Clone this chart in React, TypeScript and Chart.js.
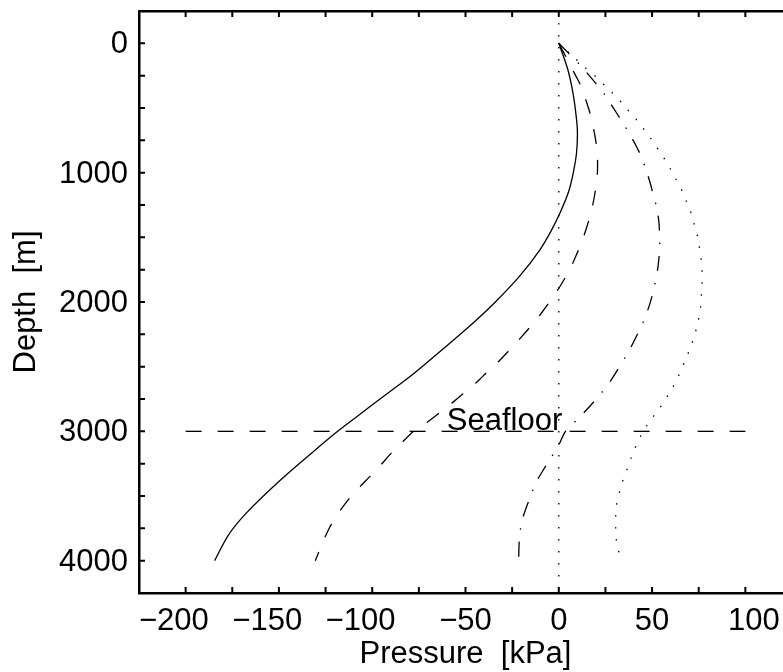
import React, { useEffect, useRef } from 'react';
import { Chart, registerables } from 'chart.js';

Chart.register(...registerables);

const FONT = '"Liberation Sans", Arial, Helvetica, sans-serif';
const FONT_SIZE = 31;

// Axis ranges and ticks
const xRange = [-225, 125];
const yRange = [-250, 4250];
const xLabelTicks = [-200, -150, -100, -50, 0, 50, 100];
const xLabelText = ['\u2212200', '\u2212150', '\u2212100', '\u221250', '0', '50', '100'];
// small horizontal nudges of the printed labels, as in the reference (leading / trailing blanks)
const xLabelLead = ['', '', '', '', '', '', '  '];
const xLabelTrail = ['  \u2009', '  \u2009', '  \u2009', '', '', '', ''];
const yLabelTicks = [0, 1000, 2000, 3000, 4000];
const yLabelText = ['0', '1000', '2000', '3000', '4000'];
const xMinorTicks = [-225, -200, -175, -150, -125, -100, -75, -50, -25, 0, 25, 50, 75, 100, 125];
const yMinorTicks = [-250, 0, 250, 500, 750, 1000, 1250, 1500, 1750, 2000, 2250, 2500, 2750, 3000, 3250, 3500, 3750, 4000, 4250];

const xTitle = 'Pressure  [kPa]';
const yTitle = 'Depth  [m]';

// Seafloor marker
const seafloorLabel = 'Seafloor';
const seafloorDepth = 3000;
const seafloorX = [-200, 100];
const seafloorLabelX = -60;

// Zero reference line
const zeroLineX = 0;
const zeroLineDepth = [-250, 4250];

// Solid curve
const solidDepth = [0, 200, 400, 600, 700, 850, 1000, 1150, 1300, 1450, 1600, 1800, 2000, 2150, 2350, 2550, 2725, 2900, 3000, 3150, 3375, 3625, 3800, 4000];
const solidPressure = [0, 4.8, 7.8, 9.6, 10, 9.5, 7.8, 5.2, 1, -4.1, -10.3, -21, -34, -45, -61, -77.5, -93.5, -109.5, -118.5, -131, -149, -167, -177, -184.5];

// Dashed curve
const dashedDepth = [0, 120, 240, 340, 455, 570, 710, 815, 940, 1060, 1190, 1300, 1430, 1530, 1650, 1760, 1880, 1970, 2085, 2170, 2270, 2355, 2450, 2530, 2620, 2690, 2780, 2935, 3000, 3090, 3165, 3270, 3360, 3450, 3540, 3650, 3740, 3860, 4000];
const dashedPressure = [0, 4.4, 8.7, 12.2, 14.9, 17.3, 19.3, 20.4, 20.8, 20.4, 19.0, 17.4, 14.8, 12.4, 9.0, 5.5, 0.6, -3.5, -9.3, -14, -20, -25.4, -31.6, -37.6, -44, -49.8, -57.2, -71, -77.8, -84.3, -89.6, -96, -102, -108, -113.4, -119, -122.7, -126.6, -130.5];

// Dash-dot curve
const dashDotDepth = [0, 160, 300, 390, 470, 600, 725, 850, 1000, 1160, 1280, 1390, 1520, 1600, 1725, 1870, 1985, 2075, 2160, 2340, 2425, 2600, 2700, 2800, 2900, 3000, 3100, 3215, 3320, 3390, 3520, 3670, 3780, 3880, 4000];
const dashDotPressure = [0, 10.9, 19.3, 24.3, 27.9, 33.7, 38.9, 43.4, 47.3, 50.5, 52.6, 53.7, 54.1, 54.0, 53.2, 51.4, 49.4, 47.4, 45.1, 39, 35.7, 28.2, 23, 17, 10.5, 3.6, 0.2, -4.6, -9.2, -12, -15.6, -19.3, -20.8, -21.3, -21.5];

// Dotted curve
const dottedDepth = [0, 100, 197, 262, 326, 395, 462, 532, 601, 673, 750, 827, 904, 986, 1066, 1148, 1233, 1320, 1410, 1500, 1590, 1680, 1773, 1867, 1958, 2050, 2150, 2250, 2350, 2450, 2580, 2665, 2740, 2820, 2895, 2970, 3050, 3135, 3220, 3305, 3390, 3485, 3575, 3665, 3755, 3845, 3940, 4000];
const dottedPressure = [0, 7.5, 14.8, 20.2, 24.6, 29.5, 33.9, 38, 42.2, 46.1, 50, 53.6, 57.1, 60.4, 63.4, 66.3, 68.7, 71.1, 72.8, 74.5, 75.5, 76.4, 76.8, 76.8, 76.4, 75.9, 74.7, 72.9, 70.6, 67.8, 63.9, 60.9, 57.7, 54.1, 50.2, 46.6, 43.4, 40.7, 38.4, 36.3, 34.1, 32.3, 30.9, 30.5, 30.5, 30.9, 32.3, 33.2];

const pts = (xs: number[], ys: number[]) => xs.map((x, i) => ({ x, y: ys[i] }));

const CANVAS_W = 792;
const CANVAS_H = 672;

const decorPlugin = {
  id: 'decor',
  afterDatasetsDraw(chart: any) {
    const { ctx, chartArea } = chart;
    const xs = chart.scales.x;
    const ys = chart.scales.y;
    ctx.save();
    ctx.strokeStyle = '#000';
    ctx.lineWidth = 2;
    ctx.beginPath();
    const tl = 6;
    for (const v of xMinorTicks) {
      const px = xs.getPixelForValue(v);
      ctx.moveTo(px, chartArea.bottom);
      ctx.lineTo(px, chartArea.bottom - tl);
      ctx.moveTo(px, chartArea.top);
      ctx.lineTo(px, chartArea.top + tl);
    }
    for (const v of yMinorTicks) {
      const py = ys.getPixelForValue(v);
      ctx.moveTo(chartArea.left, py);
      ctx.lineTo(chartArea.left + tl, py);
      ctx.moveTo(chartArea.right, py);
      ctx.lineTo(chartArea.right - tl, py);
    }
    ctx.stroke();
    ctx.font = `${FONT_SIZE}px ${FONT}`;
    ctx.fillStyle = '#000';
    ctx.textAlign = 'left';
    ctx.textBaseline = 'alphabetic';
    ctx.fillText(seafloorLabel, xs.getPixelForValue(seafloorLabelX), ys.getPixelForValue(seafloorDepth) - 1);
    ctx.restore();
  },
};

export default function App() {
  const ref = useRef<HTMLCanvasElement | null>(null);

  useEffect(() => {
    const canvas = ref.current;
    if (!canvas) return;
    Chart.defaults.font.family = FONT;
    Chart.defaults.color = '#000';

    const lineBase = {
      borderColor: '#000',
      backgroundColor: '#000',
      borderWidth: 1.3,
      pointRadius: 0,
      pointHoverRadius: 0,
      fill: false,
      tension: 0.3,
    };

    const chart = new Chart(canvas, {
      type: 'line',
      data: {
        datasets: [
          { ...lineBase, label: 'zero', data: pts(zeroLineDepth.map(() => zeroLineX), zeroLineDepth), borderDash: [1.5, 10.5], tension: 0 },
          { ...lineBase, label: 'seafloor', data: pts(seafloorX, seafloorX.map(() => seafloorDepth)), borderDash: [16, 16], tension: 0 },
          { ...lineBase, label: 'solid', data: pts(solidPressure, solidDepth) },
          { ...lineBase, label: 'dashed', data: pts(dashedPressure, dashedDepth), borderDash: [15, 16] },
          { ...lineBase, label: 'dashdot', data: pts(dashDotPressure, dashDotDepth), borderDash: [15, 12, 1.5, 12] },
          { ...lineBase, label: 'dotted', data: pts(dottedPressure, dottedDepth), borderDash: [1.5, 10.5] },
        ],
      },
      options: {
        animation: false,
        responsive: false,
        maintainAspectRatio: false,
        layout: { padding: 0 },
        plugins: { legend: { display: false }, tooltip: { enabled: false } },
        events: [],
        scales: {
          x: {
            type: 'linear',
            position: 'bottom',
            min: xRange[0],
            max: xRange[1],
            grid: { display: false, drawTicks: false },
            border: { display: true, color: '#000', width: 2.5 },
            afterBuildTicks: (scale: any) => {
              scale.ticks = xLabelTicks.map((v) => ({ value: v }));
            },
            afterFit: (scale: any) => {
              scale.height = 79;
              scale.paddingLeft = 0;
              scale.paddingRight = 0;
            },
            ticks: {
              autoSkip: false,
              maxRotation: 0,
              padding: 9.5,
              font: { size: FONT_SIZE, family: FONT },
              color: '#000',
              callback: (v: any) => {
                const i = xLabelTicks.indexOf(Number(v));
                return i < 0 ? '' : xLabelLead[i] + xLabelText[i] + xLabelTrail[i];
              },
            },
            title: {
              display: true,
              text: xTitle,
              font: { size: FONT_SIZE, family: FONT, lineHeight: 1.1 },
              color: '#000',
              padding: { top: 0, bottom: 0 },
            },
          },
          xTop: {
            type: 'linear',
            position: 'top',
            min: xRange[0],
            max: xRange[1],
            grid: { display: false, drawTicks: false },
            border: { display: true, color: '#000', width: 2.5 },
            ticks: { display: false },
            afterFit: (scale: any) => {
              scale.height = 11;
              scale.paddingLeft = 0;
              scale.paddingRight = 0;
            },
          },
          y: {
            type: 'linear',
            position: 'left',
            reverse: true,
            min: yRange[0],
            max: yRange[1],
            grid: { display: false, drawTicks: false },
            border: { display: true, color: '#000', width: 2.5 },
            afterBuildTicks: (scale: any) => {
              scale.ticks = yLabelTicks.map((v) => ({ value: v }));
            },
            afterFit: (scale: any) => {
              scale.width = 139;
              scale.paddingTop = 0;
              scale.paddingBottom = 0;
            },
            ticks: {
              autoSkip: false,
              padding: 11,
              labelOffset: 1.5,
              font: { size: FONT_SIZE, family: FONT },
              color: '#000',
              callback: (v: any) => {
                const i = yLabelTicks.indexOf(Number(v));
                return i < 0 ? '' : yLabelText[i];
              },
            },
            title: {
              display: true,
              text: yTitle,
              font: { size: FONT_SIZE, family: FONT, lineHeight: 1.1 },
              color: '#000',
              padding: { top: 9, bottom: 0 },
            },
          },
        },
      },
      plugins: [decorPlugin],
    } as any);

    return () => chart.destroy();
  }, []);

  return (
    <div style={{ position: 'absolute', left: 0, top: 0, width: 783, height: 672, overflow: 'hidden', background: '#fff' }}>
      <canvas ref={ref} width={CANVAS_W} height={CANVAS_H} style={{ display: 'block', width: CANVAS_W, height: CANVAS_H }} />
    </div>
  );
}
